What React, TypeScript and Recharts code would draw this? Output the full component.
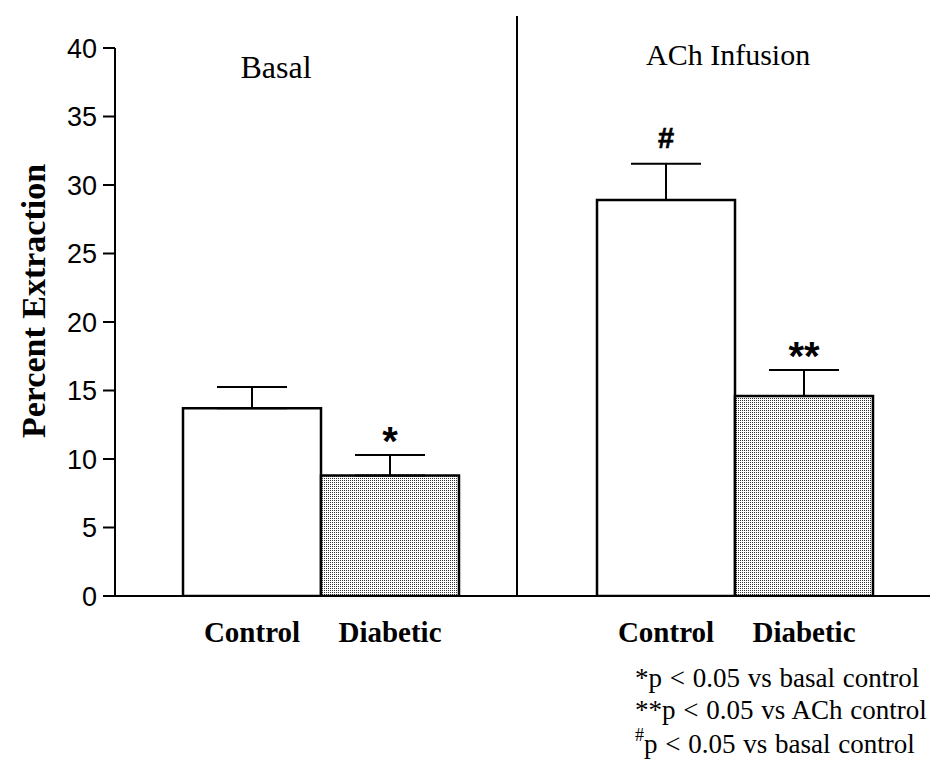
import React from 'react';
import {
  ComposedChart,
  Bar,
  Cell,
  ErrorBar,
  Line,
  LabelList,
  XAxis,
  YAxis,
} from 'recharts';

// one slot per bar, plus an empty slot between the two groups
const categories = ['basalControl', 'basalDiabetic', 'gap', 'achControl', 'achDiabetic'];
const tickLabels = ['Control', 'Diabetic', '', 'Control', 'Diabetic'];
const means = [13.7, 8.8, null, 28.9, 14.6];
const sems = [1.55, 1.5, null, 2.65, 1.9];
const marks = ['', '*', '', '#', '**'];
const yTicks = [0, 5, 10, 15, 20, 25, 30, 35, 40];

const fills = ['#ffffff', 'url(#stipple)', 'none', '#ffffff', 'url(#stipple)'];

const data = categories.map((key, i) => ({
  key,
  value: means[i],
  err: sems[i] == null ? null : [0, sems[i]],
  top: means[i] == null ? null : (means[i] as number) + (sems[i] as number),
  mark: marks[i],
}));

const serif = '"Liberation Serif", "Times New Roman", serif';
const sans = '"Liberation Sans", Arial, sans-serif';

function MarkLabel(props: any) {
  const { x, y, value } = props;
  if (!value) return null;
  const hash = value === '#';
  return (
    <text
      x={x}
      y={y - (hash ? 16 : 0)}
      textAnchor="middle"
      fontFamily={sans}
      fontWeight={700}
      fontSize={hash ? 29 : 40}
      fill="#000"
      stroke={hash ? '#000' : 'none'}
      strokeWidth={hash ? 0.6 : 0}
    >
      {value}
    </text>
  );
}

export default function App() {
  return (
    <div style={{ position: 'absolute', left: 0, top: 0, width: 930, height: 766, background: '#fff' }}>
      <ComposedChart
        width={930}
        height={766}
        data={data}
        margin={{ top: 48, right: 0, bottom: 130, left: 0 }}
        barCategoryGap="0%"
        barGap={0}
      >
        <defs>
          <pattern id="stipple" width={2} height={2} patternUnits="userSpaceOnUse">
            <rect x={0} y={0} width={2} height={2} fill="#ffffff" />
            <rect x={0} y={0} width={1} height={1} fill="#333333" />
          </pattern>
        </defs>
        <XAxis
          dataKey="key"
          tickFormatter={(_v: string, i: number) => tickLabels[i]}
          padding={{ left: 68, right: 57 }}
          height={40}
          tickLine={false}
          tickSize={0}
          tickMargin={25}
          axisLine={{ stroke: '#000', strokeWidth: 2 }}
          tick={{ fill: '#000', fontFamily: serif, fontWeight: 'bold', fontSize: 29 }}
          interval={0}
        />
        <YAxis
          width={115}
          domain={[0, 40]}
          ticks={yTicks}
          tickSize={12}
          tickMargin={6}
          axisLine={{ stroke: '#000', strokeWidth: 2 }}
          tickLine={{ stroke: '#000', strokeWidth: 2 }}
          tick={{ fill: '#000', fontFamily: sans, fontSize: 27 }}
          allowDataOverflow
        />
        <Bar dataKey="value" isAnimationActive={false} stroke="#000" strokeWidth={2.5}>
          {data.map((d, i) => (
            <Cell key={d.key} fill={fills[i]} stroke="#000" strokeWidth={2.5} />
          ))}
          <ErrorBar dataKey="err" width={35} stroke="#000" strokeWidth={2} direction="y" />
        </Bar>
        <Line dataKey="top" stroke="none" dot={false} activeDot={false} isAnimationActive={false}>
          <LabelList dataKey="mark" content={MarkLabel} />
        </Line>
      </ComposedChart>

      <svg
        width={930}
        height={766}
        style={{ position: 'absolute', left: 0, top: 0, pointerEvents: 'none' }}
      >
        <line x1={517} y1={16} x2={517} y2={597} stroke="#000" strokeWidth={2} />
        <text x={276} y={78} textAnchor="middle" fontFamily={serif} fontSize={32} fill="#000">
          Basal
        </text>
        <text x={646} y={65} fontFamily={serif} fontSize={30} fill="#000">
          ACh Infusion
        </text>
        <text
          transform="translate(45,301) rotate(-90)"
          textAnchor="middle"
          fontFamily={serif}
          fontWeight="bold"
          fontSize={34}
          fill="#000"
        >
          Percent Extraction
        </text>
        <g fontFamily={serif} fontSize={27} fill="#000" wordSpacing={1}>
          <text x={635} y={687}>*p &lt; 0.05 vs basal control</text>
          <text x={635} y={719}>**p &lt; 0.05 vs ACh control</text>
          <text x={635} y={753}>
            <tspan fontSize={18} dy={-12}>#</tspan>
            <tspan dy={12}>p &lt; 0.05 vs basal control</tspan>
          </text>
        </g>
      </svg>
    </div>
  );
}
